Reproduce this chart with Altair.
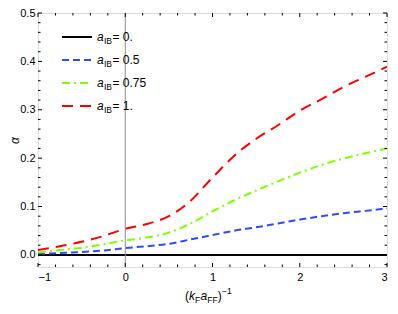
import altair as alt
import pandas as pd

# ---- data ----
x_vals = [-1, -0.75, -0.5, -0.25, 0, 0.25, 0.5, 0.75, 1, 1.25, 1.5, 1.75, 2, 2.25, 2.5, 2.75, 3]
a_0 = [0, 0, 0, 0, 0, 0, 0, 0, 0, 0, 0, 0, 0, 0, 0, 0, 0]
a_05 = [0.002, 0.004, 0.006, 0.009, 0.014, 0.018, 0.023, 0.032, 0.041, 0.050, 0.057, 0.065, 0.073, 0.080, 0.086, 0.091, 0.096]
a_075 = [0.005, 0.010, 0.015, 0.022, 0.030, 0.036, 0.046, 0.065, 0.090, 0.113, 0.133, 0.152, 0.170, 0.186, 0.199, 0.210, 0.220]
a_1 = [0.010, 0.018, 0.027, 0.039, 0.054, 0.064, 0.080, 0.112, 0.160, 0.205, 0.240, 0.268, 0.298, 0.322, 0.347, 0.368, 0.389]

series_labels = ["0.", "0.5", "0.75", "1."]
series_values = [a_0, a_05, a_075, a_1]
series_colors = ["#000000", "#2b4cff", "#80ff00", "#ff0000"]
series_dash = [[1, 0], [7, 4], [8, 4, 2, 4], [11, 7]]

x_major = [-1, 0, 1, 2, 3]
x_minor = [-0.8, -0.6, -0.4, -0.2, 0.2, 0.4, 0.6, 0.8, 1.2, 1.4, 1.6, 1.8,
           2.2, 2.4, 2.6, 2.8]
y_major = [0.0, 0.1, 0.2, 0.3, 0.4, 0.5]
y_minor = [-0.02, 0.02, 0.04, 0.06, 0.08, 0.12, 0.14, 0.16, 0.18, 0.22, 0.24,
           0.26, 0.28, 0.32, 0.34, 0.36, 0.38, 0.42, 0.44, 0.46, 0.48]
grid_x = [0]

rows = []
for lab, vals in zip(series_labels, series_values):
    for xv, yv in zip(x_vals, vals):
        rows.append({"x": xv, "y": yv, "s": lab})
df = pd.DataFrame(rows)

W, H = 349, 254
FONT = "Liberation Sans"

xs = alt.Scale(domain=[-1, 3], nice=False, zero=False)
ys = alt.Scale(domain=[-0.025, 0.5], nice=False, zero=False)

x_axis = alt.Axis(
    values=x_major, format="d", ticks=False, domain=False, grid=False,
    labelPadding=4, labelFontSize=11, labelFont=FONT, labelColor="black",
    title="")
y_axis = alt.Axis(
    values=y_major, format=".1f", ticks=False, domain=False, grid=False,
    labelPadding=3, labelFontSize=11, labelFont=FONT, labelColor="black",
    title="α", titleFont=FONT, titleFontSize=12, titleFontStyle="italic",
    titleFontWeight="normal", titleColor="black", titleX=-24, titleY=H / 2,
    titleAngle=270, titleBaseline="middle", titleAlign="center")

grid = alt.Chart(pd.DataFrame({"v": grid_x})).mark_rule(
    color="#8c8c8c", strokeWidth=1
).encode(x=alt.X("v:Q", scale=xs, axis=x_axis), y=alt.value(0), y2=alt.value(H))

lines = alt.Chart(df).mark_line(strokeWidth=2, clip=True, interpolate="monotone").encode(
    x=alt.X("x:Q", scale=xs, axis=x_axis),
    y=alt.Y("y:Q", scale=ys, axis=y_axis),
    color=alt.Color("s:N", scale=alt.Scale(domain=series_labels, range=series_colors), legend=None),
    strokeDash=alt.StrokeDash("s:N", scale=alt.Scale(domain=series_labels, range=series_dash), legend=None),
    order=alt.Order("x:Q"),
)

layers = [lines, grid]

# frame ticks (inward)
def xticks(vals, length):
    d = pd.DataFrame({"v": vals})
    bottom = alt.Chart(d).mark_rule(color="black", strokeWidth=1).encode(
        x=alt.X("v:Q", scale=xs, axis=x_axis), y=alt.value(H), y2=alt.value(H - length))
    top = alt.Chart(d).mark_rule(color="black", strokeWidth=1).encode(
        x=alt.X("v:Q", scale=xs, axis=x_axis), y=alt.value(0), y2=alt.value(length))
    return [bottom, top]

def yticks(vals, length):
    d = pd.DataFrame({"v": vals})
    left = alt.Chart(d).mark_rule(color="black", strokeWidth=1).encode(
        y=alt.Y("v:Q", scale=ys, axis=y_axis), x=alt.value(0), x2=alt.value(length))
    right = alt.Chart(d).mark_rule(color="black", strokeWidth=1).encode(
        y=alt.Y("v:Q", scale=ys, axis=y_axis), x=alt.value(W), x2=alt.value(W - length))
    return [left, right]

layers += xticks(x_major, 4) + xticks(x_minor, 2.5) + yticks(y_major, 4) + yticks(y_minor, 2.5)

# legend (manual, for subscripts)
for i, (lab, col, dash) in enumerate(zip(series_labels, series_colors, series_dash)):
    cy = 24 + 23 * i
    one = pd.DataFrame({"t": [lab]})
    layers.append(alt.Chart(one).mark_rule(color=col, strokeWidth=2, strokeDash=dash).encode(
        x=alt.value(24), x2=alt.value(54), y=alt.value(cy)))
    layers.append(alt.Chart(one).mark_text(
        text="a", font=FONT, fontSize=12, fontStyle="italic", align="left",
        baseline="alphabetic", color="black").encode(x=alt.value(59), y=alt.value(cy + 4)))
    layers.append(alt.Chart(one).mark_text(
        text="IB", font=FONT, fontSize=8.5, align="left",
        baseline="alphabetic", color="black").encode(x=alt.value(66), y=alt.value(cy + 7)))
    layers.append(alt.Chart(one).mark_text(
        font=FONT, fontSize=12, align="left", baseline="alphabetic", color="black"
    ).transform_calculate(lbl="'= ' + datum.t").encode(
        x=alt.value(74.5), y=alt.value(cy + 4), text="lbl:N"))

# x-axis title (k_F a_FF)^-1 built from pieces
title_pieces = [
    ("(", 12, "normal", 0, 147),
    ("k", 12, "italic", 0, 151),
    ("F", 8.5, "normal", 3, 157),
    ("a", 12, "italic", 0, 162.5),
    ("FF", 8.5, "normal", 3, 169.2),
    (")", 12, "normal", 0, 179.8),
    ("−1", 8.5, "normal", -6, 184),
]
base_y = H + 33
one = pd.DataFrame({"t": [""]})
for txt, size, style, dy, px in title_pieces:
    layers.append(alt.Chart(one).mark_text(
        text=txt, font=FONT, fontSize=size, fontStyle=style, align="left",
        baseline="alphabetic", color="black").encode(x=alt.value(px), y=alt.value(base_y + dy)))

chart = alt.layer(*layers).properties(
    width=W, height=H,
    autosize=alt.AutoSizeParams(type="none"),
    padding={"left": 30, "right": 3, "top": 5, "bottom": 37},
).configure_view(stroke="black", strokeWidth=1.3).configure(background="white")

chart.save("out.html", embed_options={"renderer": "svg", "actions": False})
